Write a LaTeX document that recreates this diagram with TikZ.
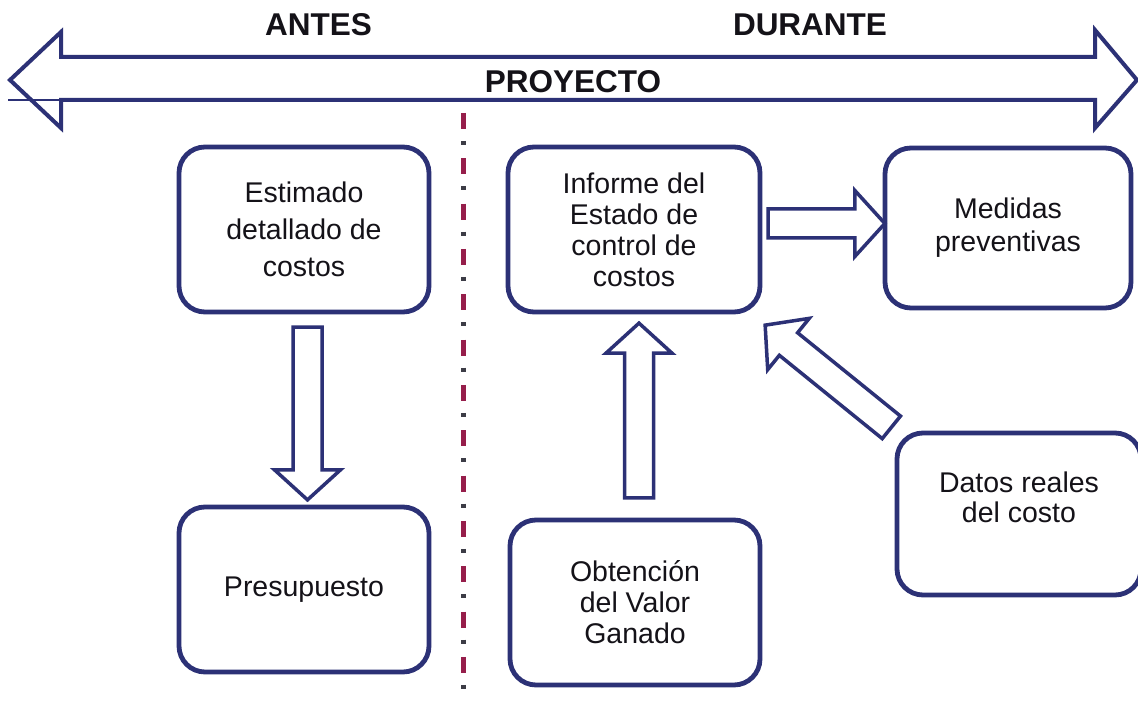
\documentclass[tikz,border=0pt]{standalone}
\usepackage{fontspec}
\setmainfont{Liberation Sans}
\usetikzlibrary{positioning,calc}

\definecolor{navy}{RGB}{44,49,118}
\definecolor{maroon}{RGB}{150,30,75}
\definecolor{dotgray}{RGB}{60,60,70}
\definecolor{ink}{RGB}{20,18,24}

\tikzset{
  box/.style={draw=navy, line width=4.8pt, rounded corners=26pt, fill=white,
    minimum width=250pt, minimum height=165pt, inner sep=0pt,
    align=center, text=ink, font=\fontsize{28.5}{31}\selectfont},
  arrowline/.style={draw=navy, line width=3.5pt, fill=white, line join=miter},
  heading/.style={text=ink, font=\bfseries\fontsize{31.5}{36}\selectfont},
}

% hollow block arrow from #1 to #2
\newcommand{\blockarrow}[2]{%
  \draw[arrowline] let \p1=(#1), \p2=(#2), \n1={atan2(\y2-\y1,\x2-\x1)} in
    ($(\p1)+(\n1+90:14.5)$) -- ($(\p2)+(\n1+180:30)+(\n1+90:14.5)$)
    -- ($(\p2)+(\n1+180:30)+(\n1+90:33)$) -- (\p2)
    -- ($(\p2)+(\n1+180:30)+(\n1-90:33)$) -- ($(\p2)+(\n1+180:30)+(\n1-90:14.5)$)
    -- ($(\p1)+(\n1-90:14.5)$) -- cycle;
}

\begin{document}
\begin{tikzpicture}[x=1pt, y=1pt]
  \useasboundingbox[fill=white] (0,0) rectangle (1138,702);

  % big double arrow on top
  \draw[navy, line width=4pt, line join=miter] (10,622) -- (61,670) -- (61,645)
    -- (1095,645) -- (1095,672) -- (1137,622) -- (1095,574) -- (1095,602)
    -- (61,602) -- (61,574) -- cycle;
  \draw[navy, line width=1.2pt] (8,602) -- (61,602);
  \node[heading] (antes) at (318.5,677) {ANTES};
  \node[heading] (durante) at (810,677) {DURANTE};
  \node[heading] (proyecto) at (573,620) {PROYECTO};

  % divider
  \draw[maroon, line width=5pt, dash pattern=on 16pt off 29.33pt] (463.3,589) -- (463.3,0);
  \draw[dotgray, line width=4.5pt, dash pattern=on 4pt off 41.33pt] (463.3,561) -- (463.3,0);

  % boxes
  \node[box, font=\fontsize{28.5}{37}\selectfont] (est) at (304,472.5) {Estimado\\detallado de\\costos};
  \node[box] (pres) at (304,112.5) {Presupuesto};
  \node[box, minimum width=252pt] (inf) at (634,472.5) {Informe del\\Estado de\\control de\\costos};
  \node[box, minimum width=246pt, minimum height=160pt,
    font=\fontsize{28.5}{33}\selectfont] (med) at (1008,474) {Medidas\\preventivas};
  \node[box, minimum width=244pt, minimum height=162pt] (datos) at (1019,188) {};
  \node[text=ink, align=center, font=\fontsize{28.5}{30}\selectfont] (datostxt)
    at ([yshift=17pt]datos.center) {Datos reales\\del costo};
  \node[box] (obt) at (635,99.5) {Obtención\\del Valor\\Ganado};

  % block arrows
  \blockarrow{[xshift=3.5pt,yshift=-12.75pt]est.south}{[xshift=3.5pt,yshift=4.75pt]pres.north}
  \blockarrow{[xshift=4pt,yshift=19.75pt]obt.north}{[xshift=5pt,yshift=-8.75pt]inf.south}
  \blockarrow{[xshift=5.75pt,yshift=6pt]inf.east}{[xshift=2.25pt,yshift=4.5pt]med.west}
  \blockarrow{[xshift=-3.25pt,yshift=3.25pt]datos.north west}{[xshift=2.75pt,yshift=-10.75pt]inf.south east}
\end{tikzpicture}
\end{document}
